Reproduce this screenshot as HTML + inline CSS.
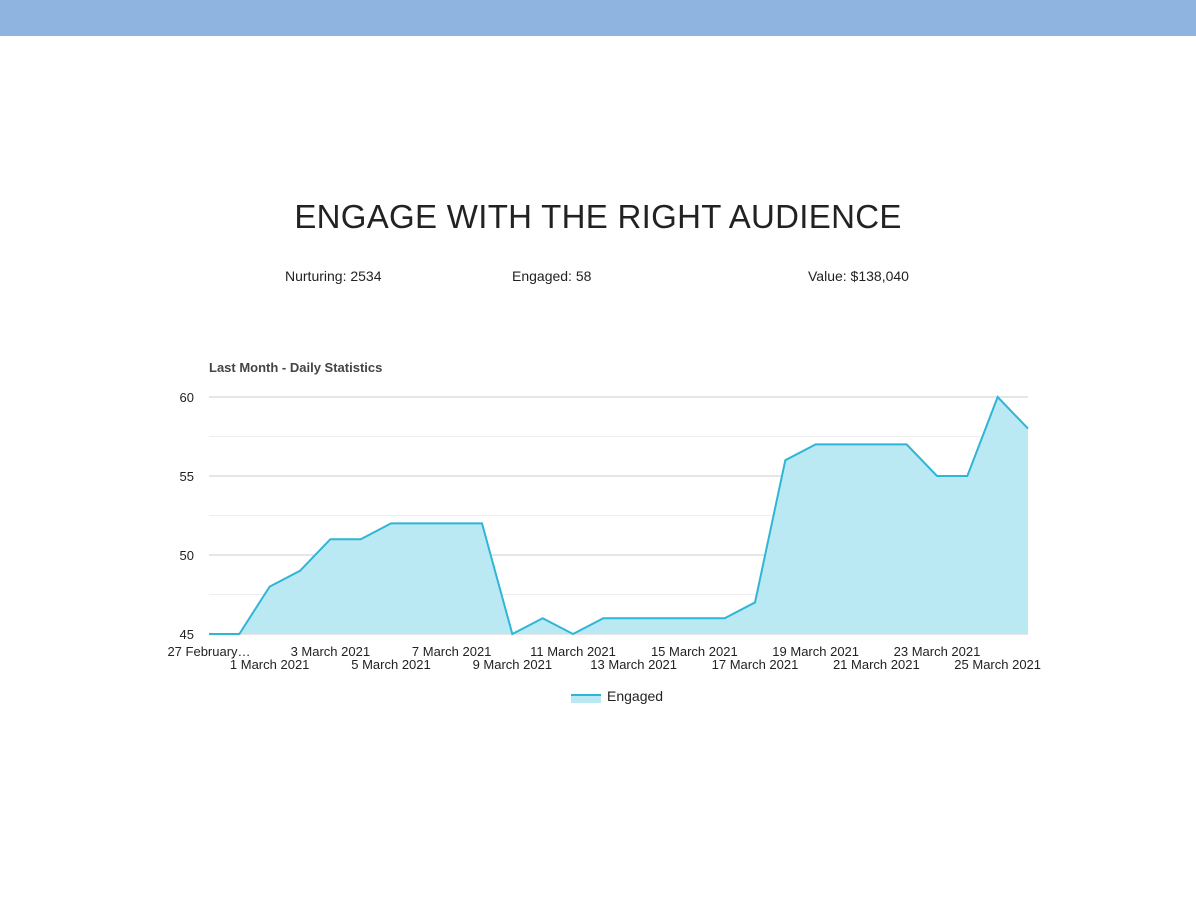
<!DOCTYPE html>
<html><head><meta charset="utf-8"><style>
body{margin:0;width:1196px;height:900px;background:#fff;font-family:"Liberation Sans",sans-serif;overflow:hidden;position:relative}
.bar{position:absolute;left:0;top:0;width:1196px;height:36px;background:#8fb4e0}
.title{position:absolute;top:198px;left:0;width:1196px;text-align:center;font-size:33px;font-weight:300;color:#222;letter-spacing:0.3px}
.stat{position:absolute;top:268px;font-size:14px;color:#222}
svg{position:absolute;left:0;top:0}
</style></head><body>
<div class="bar"></div>
<div class="title">ENGAGE WITH THE RIGHT AUDIENCE</div>
<div class="stat" style="left:285px">Nurturing: 2534</div>
<div class="stat" style="left:512px">Engaged: 58</div>
<div class="stat" style="left:808px">Value: $138,040</div>
<svg id="chart" width="1196" height="900"></svg>
<script>
const categories=["27 February 2021","28 February 2021","1 March 2021","2 March 2021","3 March 2021","4 March 2021","5 March 2021","6 March 2021","7 March 2021","8 March 2021","9 March 2021","10 March 2021","11 March 2021","12 March 2021","13 March 2021","14 March 2021","15 March 2021","16 March 2021","17 March 2021","18 March 2021","19 March 2021","20 March 2021","21 March 2021","22 March 2021","23 March 2021","24 March 2021","25 March 2021","26 March 2021"];
const engaged=[45,45,48,49,51,51,52,52,52,52,45,46,45,46,46,46,46,46,47,56,57,57,57,57,55,55,60,58];
const yTicks=[45,50,55,60];
const yMinor=[47.5,52.5,57.5];
const ns="http://www.w3.org/2000/svg";
const svg=document.getElementById('chart');
const x0=209,x1=1028,yMin=45,yMax=60,py0=634,py1=397;
const xs=i=>x0+(x1-x0)*i/(categories.length-1);
const ys=v=>py0-(v-yMin)/(yMax-yMin)*(py0-py1);
function mk(t,a,txt){const e=document.createElementNS(ns,t);for(const k in a)e.setAttribute(k,a[k]);if(txt!=null)e.textContent=txt;svg.appendChild(e);return e;}
const ct=mk('text',{x:209,y:372,'font-size':13,'font-weight':'bold',fill:'#444'},'Last Month - Daily Statistics');


yMinor.forEach(v=>{const l=mk('line',{x1:x0,x2:x1,y1:ys(v),y2:ys(v),stroke:'#eee'});

});
yTicks.forEach(v=>{const l=mk('line',{x1:x0,x2:x1,y1:ys(v),y2:ys(v),stroke:'#ccc'});


const t=mk('text',{x:194,y:ys(v)+5,'font-size':13,fill:'#222','text-anchor':'end'},String(v));

});
let d='M'+xs(0)+','+ys(yMin);
engaged.forEach((v,i)=>d+=' L'+xs(i)+','+ys(v));
d+=' L'+xs(engaged.length-1)+','+ys(yMin)+' Z';
const area=mk('path',{d:d,fill:'#bbe9f3'});


const line=mk('polyline',{points:engaged.map((v,i)=>xs(i)+','+ys(v)).join(' '),fill:'none',stroke:'#2fb5d6','stroke-width':2});


categories.forEach((c,i)=>{if(i%2)return;
const row=(i/2)%2;
let lab=c.replace(' 2021','');lab=lab==="27 February"?"27 February…":c;
const t=mk('text',{x:xs(i),y:row?669:656,'font-size':13,fill:'#222','text-anchor':'middle'},lab);

});
const sw=mk('rect',{x:571,y:695,width:30,height:8,fill:'#bbe9f3'});


const sl=mk('line',{x1:571,x2:601,y1:695,y2:695,stroke:'#2fb5d6','stroke-width':2});


const lt=mk('text',{x:607,y:701,'font-size':14,fill:'#222'},'Engaged');


</script>
</body></html>
